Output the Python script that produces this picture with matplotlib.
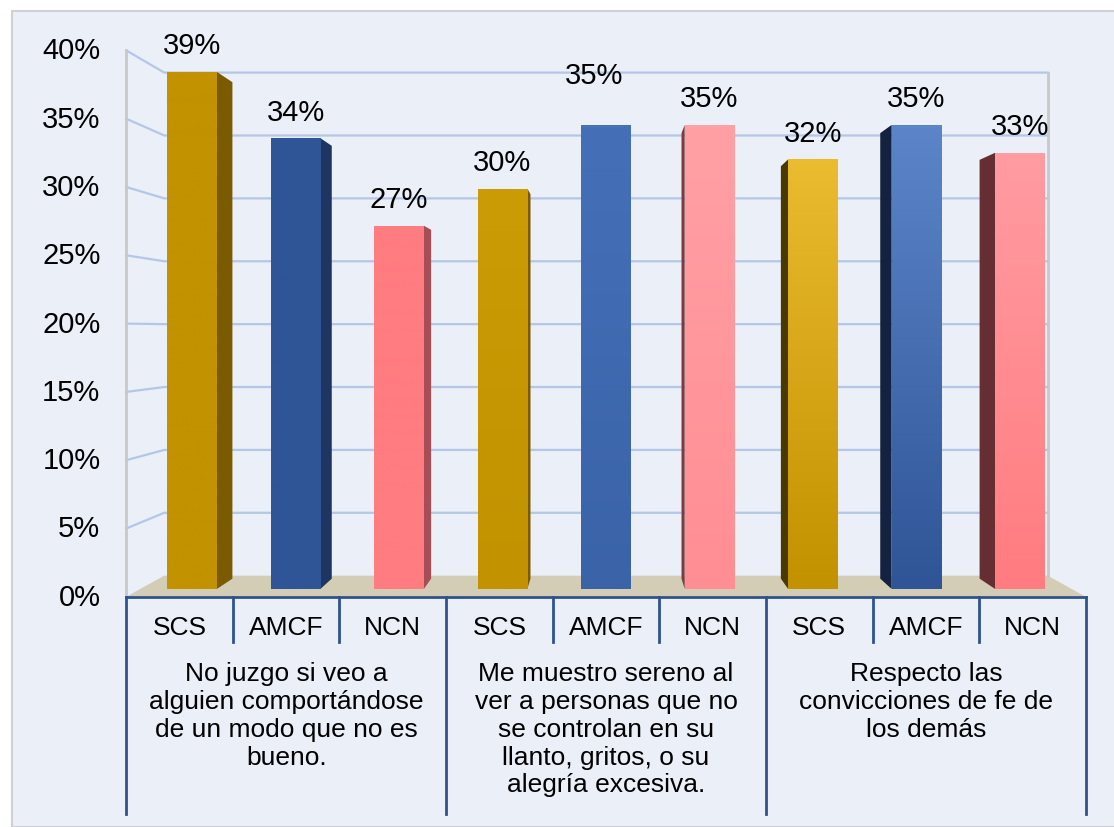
import numpy as np
import matplotlib.pyplot as plt
from matplotlib.patches import Polygon, Rectangle
from matplotlib.colors import to_rgb

plt.rcParams['font.family'] = ['Liberation Sans', 'DejaVu Sans']

series = ["SCS", "AMCF", "NCN"]
groups = ["No juzgo si veo a\nalguien comportándose\nde un modo que no es\nbueno.",
          "Me muestro sereno al\nver a personas que no\nse controlan en su\nllanto, gritos, o su\nalegría excesiva.",
          "Respecto las\nconvicciones de fe de\nlos demás"]
group1 = [39, 34, 27.4]
group2 = [30.2, 35, 35]
group3 = [32.4, 35, 32.9]
yticks = [0, 5, 10, 15, 20, 25, 30, 35, 40]

values = group1 + group2 + group3
labels = series * len(groups)
x = np.arange(len(values))

# colours: front top, front bottom, side
top_cols = ["#C29200", "#2F5597", "#FF7C80",
            "#CB9C05", "#4570B8", "#FFA0A5",
            "#EBBB30", "#5C85C9", "#FF9CA2"]
bot_cols = ["#C29200", "#2F5597", "#FF7C80",
            "#C29200", "#3A63A8", "#FF8E94",
            "#C29200", "#2F5597", "#FF7C80"]
side_cols = ["#7A5B00", "#1F3561", "#A64D55",
             "#7A5B00", "#1F3561", "#7E3A3D",
             "#4A3900", "#15223F", "#642E33"]
# label nudges (x in bar units, y in %)
lab_dx = [0, 0, 0, 0, -0.12, 0, 0, 0, 0]
lab_dy = [0, 0, 0, 0, 1.8, 0, 0, 0, 0]

# simple perspective: vanishing point and depths
vx, vy = 4.0, 19.5
d_front, d_side, d_back = -0.03, 0.040, 0.0515
bw = 0.48


def proj(px, py, d):
    return px + d * (vx - px), py + d * (vy - py)


fig = plt.figure(figsize=(11.14, 8.28), dpi=100)
fig.patch.set_facecolor("white")
ax = fig.add_axes([0, 0, 1, 1])
ax.set_axis_off()
ax.add_patch(Rectangle((12 / 1114, 0), 1, 1 - 12 / 828, transform=ax.transAxes,
                       facecolor="#EAEFF8", edgecolor="#D0D0D0", lw=1.5, zorder=0))

xl, xr = -0.5, len(values) - 0.5

# floor
floor = [proj(xl, 0, d_front), proj(xr, 0, d_front), proj(xr, 0, d_back), proj(xl, 0, d_back)]
ax.add_patch(Polygon(floor, closed=True, facecolor="#D3CDB6", edgecolor="none", zorder=1))

# gridlines on side and back walls
for t in yticks[1:]:
    p0 = proj(xl, t, d_front)
    p1 = proj(xl, t, d_back)
    p2 = proj(xr, t, d_back)
    ax.plot([p0[0], p1[0], p2[0]], [p0[1], p1[1], p2[1]], color="#B4C7E7", lw=1.6, zorder=2)
# back wall right edge and left axis line
b0, b1 = proj(xr, 0, d_back), proj(xr, yticks[-1], d_back)
ax.plot([b0[0], b1[0]], [b0[1], b1[1]], color="#C8C8C8", lw=2, zorder=2)
f0, f1 = proj(xl, 0, d_front), proj(xl, yticks[-1], d_front)
ax.plot([f0[0], f1[0]], [f0[1], f1[1]], color="#C8C8C8", lw=2, zorder=3)

# y tick labels
for t in yticks:
    px, py = proj(xl, t, d_front)
    ax.text(px - 0.25, py, f"{t}%", ha="right", va="center", fontsize=21, color="black")

# bars
bars = ax.bar(x, values, width=bw, color=bot_cols, zorder=5)
for i, (b, v) in enumerate(zip(bars, values)):
    ex = x[i] + bw / 2 if x[i] < vx else x[i] - bw / 2
    if abs(x[i] - vx) > 1e-6:
        side = [(ex, 0), (ex, v), proj(ex, v, d_side), proj(ex, 0, d_side)]
        ax.add_patch(Polygon(side, closed=True, facecolor=side_cols[i], edgecolor="none", zorder=4))
    c0 = np.array(to_rgb(top_cols[i]))
    c1 = np.array(to_rgb(bot_cols[i]))
    grad = np.linspace(0, 1, 64)[:, None, None]
    img = c0 * (1 - grad) + c1 * grad
    im = ax.imshow(img, extent=[x[i] - bw / 2, x[i] + bw / 2, 0, v], aspect="auto",
                   zorder=5.5, interpolation="bilinear")
    im.set_clip_path(b)
    ax.text(x[i] + lab_dx[i], v + 2.0 + lab_dy[i], f"{v:.0f}%", ha="center", va="center",
            fontsize=21, color="black", zorder=6)

# category box
edge_col = "#2F528F"
ybox = proj(xl, 0, d_front)[1]
y_sub = -4.0
y_grp = -16.95
ax.plot([proj(xl, 0, d_front)[0], proj(xr, 0, d_front)[0]], [ybox, ybox], color=edge_col, lw=2, zorder=7)
for k in range(len(values) + 1):
    bx = proj(xl + k, 0, d_front)[0]
    ybot = y_grp if k % 3 == 0 else y_sub
    ax.plot([bx, bx], [ybox, ybot], color=edge_col, lw=2, zorder=7)
for i, lab in enumerate(labels):
    cx = proj(x[i], 0, d_front)[0]
    ax.text(cx, -2.85, lab, ha="center", va="center", fontsize=19, color="black")
for g, name in enumerate(groups):
    cx = proj(3 * g + 1, 0, d_front)[0]
    ax.text(cx, -5.45, name, ha="center", va="top", fontsize=19, color="black", linespacing=1.2)

ax.set_xlim(-192 / 103.5, (1114 - 192) / 103.5)
ax.set_ylim((590 - 828) / 13.26, 590 / 13.26)

fig.savefig("out.png", dpi=100, facecolor=fig.get_facecolor())
